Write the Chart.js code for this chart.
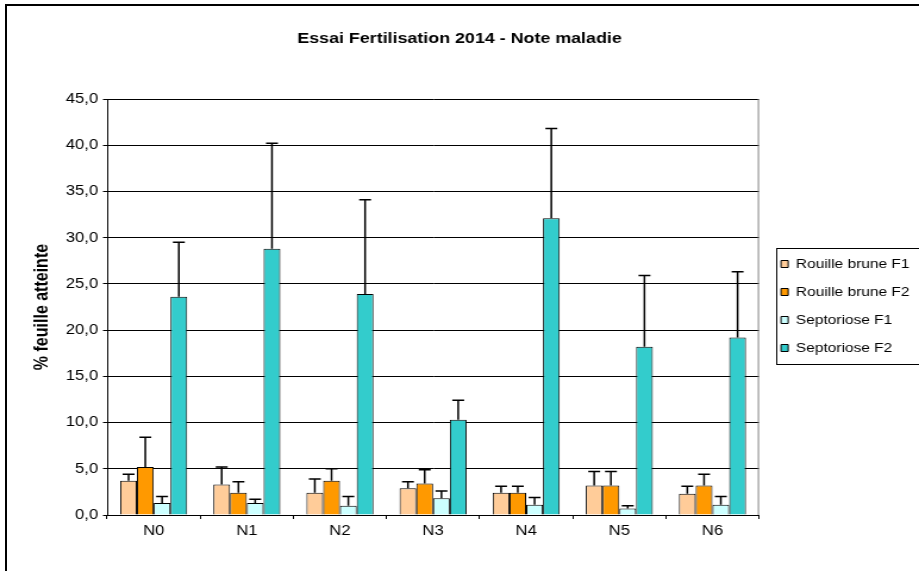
<!DOCTYPE html>
<html>
<head>
<meta charset="utf-8">
<script src="https://cdn.jsdelivr.net/npm/chart.js@4.4.1/dist/chart.umd.min.js"></script>
<style>
  html, body { margin: 0; padding: 0; background: #fff; overflow: hidden; }
  #frame { position: absolute; left: 5px; top: 4px; width: 1000px; height: 1000px; border-left: 2px solid #000; border-top: 2px solid #000; }
  /* the source picture is stretched sideways, so stretch the canvas the same way */
  #chart { position: absolute; left: 0; top: 0; transform-origin: 0 0; transform: scaleX(1.19041); }
</style>
</head>
<body>
<div id="frame"></div>
<canvas id="chart" width="772" height="571"></canvas>
<script>
// categories + series (bar value, error above the bar)
var categories = ['N0', 'N1', 'N2', 'N3', 'N4', 'N5', 'N6'];
var rouilleF1 = [3.7, 3.3, 2.4, 2.9, 2.4, 3.2, 2.3];
var rouilleF1Err = [0.7, 1.9, 1.5, 0.7, 0.7, 1.5, 0.8];
var rouilleF2 = [5.2, 2.4, 3.7, 3.4, 2.4, 3.2, 3.2];
var rouilleF2Err = [3.2, 1.2, 1.3, 1.5, 0.7, 1.5, 1.2];
var septoF1 = [1.3, 1.3, 1.0, 1.8, 1.1, 0.7, 1.1];
var septoF1Err = [0.7, 0.4, 1.0, 0.8, 0.8, 0.3, 0.9];
var septoF2 = [23.6, 28.8, 23.9, 10.3, 32.1, 18.2, 19.2];
var septoF2Err = [5.9, 11.4, 10.2, 2.1, 9.7, 7.7, 7.1];
var yTicks = [0, 5, 10, 15, 20, 25, 30, 35, 40, 45];

Chart.defaults.font.family = "'Liberation Sans', Arial, sans-serif";
Chart.defaults.color = '#000';

var LEGEND_W = 134.4;

// error bars (upper only) drawn with the y scale
var errorBars = {
    id: 'errorBars',
    afterDatasetsDraw: function (chart) {
        var ctx = chart.ctx, y = chart.scales.y;
        ctx.save();
        ctx.strokeStyle = '#000';
        ctx.lineWidth = 1.5;
        chart.data.datasets.forEach(function (ds, i) {
            chart.getDatasetMeta(i).data.forEach(function (bar, j) {
                var top = y.getPixelForValue(ds.data[j] + ds.errors[j]);
                ctx.beginPath();
                ctx.moveTo(bar.x, bar.y);
                ctx.lineTo(bar.x, top);
                ctx.moveTo(bar.x - 5, top);
                ctx.lineTo(bar.x + 5, top);
                ctx.stroke();
            });
        });
        ctx.restore();
    }
};

// grey right edge of plot area + legend placement and frame
var frames = {
    id: 'frames',
    afterInit: function (chart) {
        var lg = chart.legend;
        if (!lg) return;
        var fit = lg.fit;
        lg.fit = function () { fit.call(this); this.width = LEGEND_W; };
    },
    afterLayout: function (chart) {
        var lg = chart.legend;
        lg.left = chart.chartArea.right + 3.5;
        lg.right = lg.left + lg.width;
        lg.top = 242.5;
        lg.bottom = chart.chartArea.bottom;
        lg.height = lg.bottom - lg.top;
    },
    beforeDatasetsDraw: function (chart) {
        var a = chart.chartArea, ctx = chart.ctx;
        ctx.save();
        ctx.strokeStyle = '#808080';
        ctx.lineWidth = 1;
        ctx.beginPath();
        ctx.moveTo(a.right - 0.5, a.top);
        ctx.lineTo(a.right - 0.5, a.bottom);
        ctx.stroke();
        ctx.restore();
    },
    afterDraw: function (chart) {
        var hb = chart.legend.legendHitBoxes;
        if (!hb || !hb.length) return;
        var first = hb[0], last = hb[hb.length - 1];
        var ctx = chart.ctx;
        var l = Math.round(first.left - 4) + 0.5;
        var t = Math.round(first.top - 10) + 0.5;
        var b = Math.round(last.top + last.height + 9) + 0.5;
        ctx.save();
        ctx.strokeStyle = '#000';
        ctx.lineWidth = 1;
        ctx.strokeRect(l, t, chart.width + 10 - l, b - t);
        ctx.restore();
    }
};

new Chart(document.getElementById('chart'), {
    type: 'bar',
    data: {
        labels: categories,
        datasets: [
            { label: 'Rouille brune F1', data: rouilleF1, errors: rouilleF1Err, backgroundColor: '#FFCC99' },
            { label: 'Rouille brune F2', data: rouilleF2, errors: rouilleF2Err, backgroundColor: '#FF9900' },
            { label: 'Septoriose F1', data: septoF1, errors: septoF1Err, backgroundColor: '#CCFFFF' },
            { label: 'Septoriose F2', data: septoF2, errors: septoF2Err, backgroundColor: '#33CCCC' }
        ]
    },
    options: {
        responsive: false,
        animation: false,
        layout: { padding: 0 },
        datasets: {
            bar: { categoryPercentage: 0.72, barPercentage: 1, borderColor: '#000', borderWidth: 1 }
        },
        plugins: {
            title: {
                display: true,
                text: 'Essai Fertilisation 2014 - Note maladie',
                color: '#000',
                font: { size: 15, weight: 'bold' },
                padding: { top: 29.5, bottom: 51.5 }
            },
            legend: {
                position: 'right',
                align: 'start',
                labels: { boxWidth: 6, boxHeight: 7, padding: 15, color: '#000', font: { size: 13 } }
            },
            tooltip: { enabled: false }
        },
        scales: {
            x: {
                afterFit: function (s) { s.height = 56; },
                grid: { drawOnChartArea: false, offset: true, tickLength: 4, color: '#000' },
                border: { color: '#000' },
                ticks: { padding: 4, color: '#000', font: { size: 14 } }
            },
            y: {
                min: 0,
                max: 45,
                afterFit: function (s) { s.width = 90; },
                afterBuildTicks: function (s) { s.ticks = yTicks.map(function (v) { return { value: v }; }); },
                grid: { color: '#000', tickLength: 3.5 },
                border: { color: '#000' },
                ticks: {
                    padding: 4,
                    color: '#000',
                    font: { size: 14 },
                    callback: function (v) { return v.toFixed(1).replace('.', ','); }
                },
                title: {
                    display: true,
                    text: '% feuille atteinte',
                    color: '#000',
                    font: { size: 16, weight: 'bold' },
                    padding: { top: 26, bottom: 0 }
                }
            }
        }
    },
    plugins: [errorBars, frames]
});
</script>
</body>
</html>
